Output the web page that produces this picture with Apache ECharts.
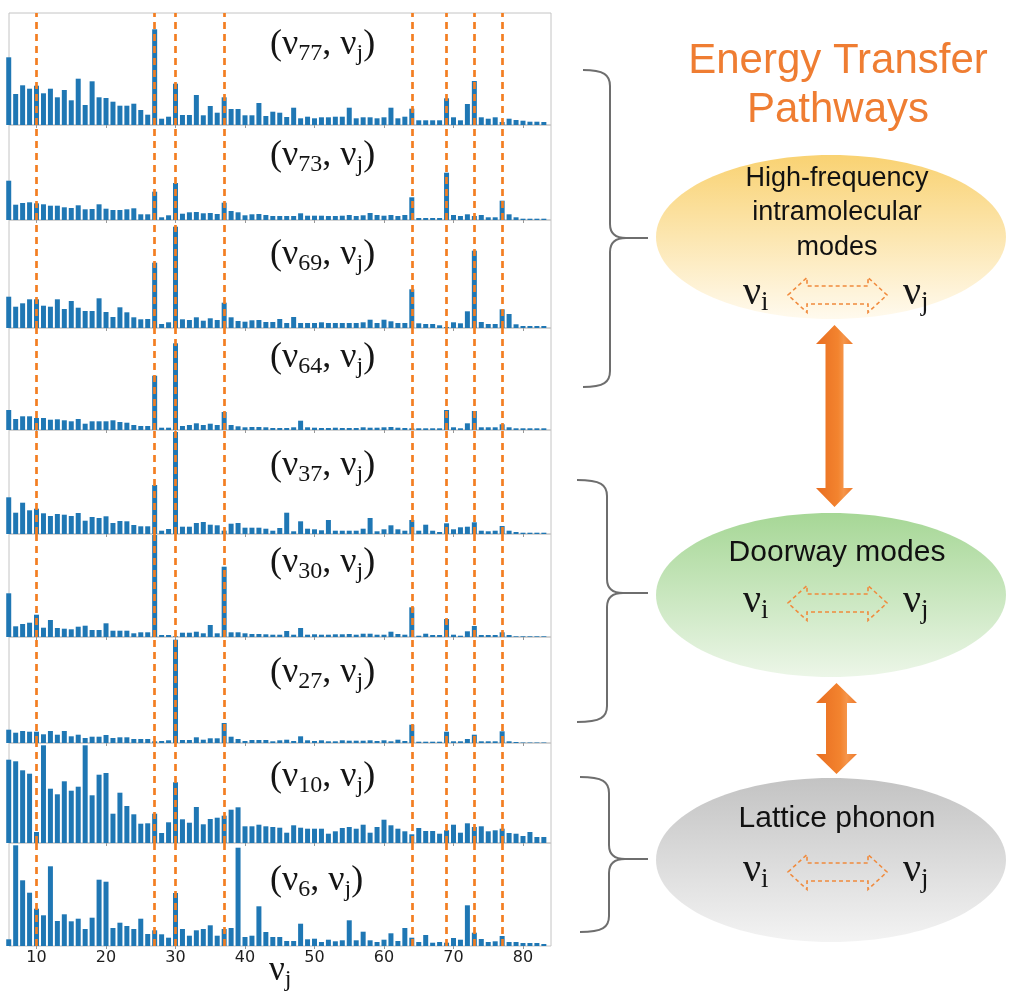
<!DOCTYPE html>
<html>
<head>
<meta charset="utf-8">
<title>Energy transfer pathways</title>
<script src="https://cdn.jsdelivr.net/npm/echarts@6.0.0/dist/echarts.min.js"></script>
<style>
  html, body { margin: 0; padding: 0; background: #fff; }
  #chart { width: 1009px; height: 992px; }
</style>
</head>
<body>
<div id="chart"></div>
<script>
  // x axis: mode index nu_j
  let modes = [6, 7, 8, 9, 10, 11, 12, 13, 14, 15, 16, 17, 18, 19, 20, 21, 22, 23, 24, 25,
    26, 27, 28, 29, 30, 31, 32, 33, 34, 35, 36, 37, 38, 39, 40, 41, 42, 43, 44, 45,
    46, 47, 48, 49, 50, 51, 52, 53, 54, 55, 56, 57, 58, 59, 60, 61, 62, 63, 64, 65,
    66, 67, 68, 69, 70, 71, 72, 73, 74, 75, 76, 77, 78, 79, 80, 81, 82, 83];
  let tickValues = [10, 20, 30, 40, 50, 60, 70, 80];
  let markedModes = [10, 27, 30, 37, 64, 69, 73, 77];
  let pairModes = ['77', '73', '69', '64', '37', '30', '27', '10', '6'];

  // coupling strength (nu_i, nu_j)
  let nu77 = [67.7, 31, 39.7, 36.3, 39.3, 31.7, 36.3, 27.7, 35, 24.7,
    46.3, 20, 43.7, 27.7, 27, 23.3, 19.3, 19.3, 21.3, 15,
    10.3, 95.7, 6.3, 8.3, 41.3, 10, 10, 30, 9.7, 19,
    12.3, 27.7, 16, 16, 9.7, 9.7, 22, 9, 13.3, 12.3,
    8, 17.3, 6.7, 8.3, 6.7, 7.7, 7.7, 8.3, 8.3, 17.3,
    6.7, 7.7, 7.7, 6.7, 7.7, 17.3, 6.7, 8.3, 16.3, 4.7,
    4.7, 4.7, 4.7, 26.7, 7.7, 4.7, 21, 44, 7.7, 6.3,
    7.7, 3, 6.3, 5, 4.3, 3.3, 3.3, 3];
  let nu73 = [39.3, 15.3, 17, 17.7, 16.7, 15.7, 14.3, 14.3, 12.7, 12,
    14.7, 10.7, 11, 15.7, 11.3, 10, 10, 10.7, 11.7, 5.7,
    5.7, 28.3, 2.7, 4.7, 37, 6.3, 7.7, 8, 6.7, 7,
    6, 17.3, 9, 7.7, 4.7, 5.7, 6, 5, 4, 4,
    4, 4, 6.7, 4.3, 4.3, 4.3, 4, 4, 4.3, 5,
    4, 4.7, 7, 5, 4.3, 5, 4, 5, 22.7, 2,
    2, 2, 2, 47.3, 5, 4, 5.7, 4, 5, 2.7,
    2.7, 19.3, 5.7, 2.7, 1.3, 1.3, 1.3, 1.3];
  let nu69 = [31.3, 21.3, 24.7, 28.7, 28.7, 22.3, 21.3, 28.7, 19, 27,
    20.3, 17, 17, 29.7, 16, 11, 20.7, 15.7, 10.7, 8.7,
    9, 65.3, 4, 5.7, 101.3, 8.7, 8, 10.7, 7.3, 9.7,
    8, 25.3, 10.7, 7, 6.3, 7.7, 8, 6, 6, 9,
    5, 11, 5, 5, 5, 5.7, 5, 5, 5, 5,
    5, 5.7, 8.3, 5, 8.3, 6.7, 5, 5, 38.7, 4.7,
    4, 4, 2.7, 1, 5.7, 4.7, 16.7, 77.3, 6, 4,
    4, 18.7, 14, 3.7, 2, 2, 2, 2];
  let nu64 = [20, 11, 13.7, 13.7, 12, 12, 10.3, 10.7, 9.7, 8.7,
    11, 6.3, 8.7, 8.7, 8.7, 9.7, 8, 7.3, 5, 4,
    4, 54.3, 2.3, 2.3, 86.7, 4, 5, 6.7, 5, 6.3,
    5, 18, 5, 3.7, 2.7, 3, 3, 2.7, 2, 2,
    2, 2.7, 9.3, 2.7, 2.3, 2, 2, 2.3, 2, 2,
    2, 2.7, 2.3, 2.3, 2.7, 3, 2.3, 2, 1.7, 1.7,
    1.7, 1.7, 1.7, 20, 2.7, 1.7, 6.7, 19, 2.7, 2.7,
    2.7, 5.7, 2.7, 1.7, 1.7, 1.7, 1.7, 1.7];
  let nu37 = [36.7, 21.3, 31.3, 23.7, 25.3, 20.7, 18, 20, 19.3, 18,
    21, 13.3, 17, 16, 17.7, 11, 13, 12.7, 9, 7.7,
    7.7, 49, 3.3, 5, 102, 7.3, 7.3, 11, 12, 9.3,
    8.7, 3.3, 10.3, 11, 6.3, 6.3, 6.3, 5.3, 3.3, 6,
    21.3, 2.7, 12.7, 5.3, 4.7, 3.7, 14, 3.3, 3.3, 3.3,
    3.3, 5.3, 16, 2.7, 4.7, 8.7, 4.7, 3.3, 14, 3.3,
    9.3, 3.3, 2, 10.7, 4.7, 6.7, 7.3, 11.7, 3.3, 2.7,
    3.3, 8, 3.3, 2, 1.3, 1.3, 1.3, 1.3];
  let nu30 = [43.7, 10.7, 13, 14.3, 22.3, 9.3, 17, 9, 8.3, 7.7,
    10.3, 11.3, 7, 7, 13.7, 6.3, 6.3, 6.3, 3.7, 4.7,
    4.7, 102, 2, 2, 0.7, 4.3, 4.3, 5.3, 3.7, 12,
    3.7, 70.3, 4.7, 4.7, 3.7, 3, 3, 2.7, 2.3, 2.3,
    6, 2.3, 9, 2.3, 2.7, 2.3, 2.3, 2.7, 2.7, 3,
    2.3, 3.3, 3.3, 2.3, 2.3, 5.3, 3, 2.3, 29.7, 1.3,
    3.3, 2, 2, 18, 2.3, 1.3, 5.7, 11, 2, 2,
    2, 4.7, 2, 0.7, 0.7, 0.7, 0.7, 0.7];
  let nu27 = [13.3, 10.3, 12, 11.3, 11.3, 8.7, 12, 8.3, 12, 6.7,
    8.3, 5, 6.3, 6.3, 8, 5, 5.7, 5.7, 4, 4,
    4, 1.7, 2, 2.7, 103.3, 3, 3, 5.7, 3.3, 4.7,
    4.7, 20, 6.3, 4, 2, 3, 3, 3, 1.7, 2.7,
    3.3, 2, 6.7, 2.7, 2, 2.7, 1.7, 1.7, 2.7, 2.3,
    2.3, 2.3, 2.7, 2, 2.7, 1.7, 3.3, 2, 18.3, 1.3,
    1.3, 1.3, 1.3, 11.3, 1.7, 1.7, 4, 8.3, 1.7, 1.7,
    1.7, 11.7, 1.7, 1, 0.5, 0.5, 0.5, 0.5];
  let nu10 = [83.3, 81.7, 72.7, 69.3, 11, 97.7, 54.3, 48.7, 61.7, 52.3,
    56.3, 97.7, 47.7, 68.3, 70, 29.3, 50.3, 37, 28.7, 19.3,
    19.7, 29.3, 10, 20.7, 60.7, 23.7, 20.3, 36, 18.7, 24,
    25.3, 27.3, 33.3, 35.7, 16.7, 16.7, 18.3, 16.7, 16, 15.3,
    10.3, 17.7, 15.3, 14.3, 14.3, 14.3, 9.3, 11.7, 15, 16,
    14.3, 18.3, 10.3, 16, 23.3, 17.7, 14.3, 11.7, 8.7, 15,
    12, 12, 9.3, 12.7, 18.3, 10.3, 19.7, 16, 16.7, 11.7,
    12.7, 14.3, 10, 9.3, 7, 11, 6, 6];
  let nu6 = [6.7, 100.7, 65.7, 53.3, 37.3, 30.7, 79.7, 25, 31.7, 24.7,
    27.3, 17, 28.3, 66.3, 64.3, 18, 23.3, 20, 17, 27.3,
    12, 15.7, 11.7, 8.3, 53, 17, 10.3, 15.7, 17, 20.7,
    10.3, 17, 18, 98.3, 9, 10.3, 39.7, 14, 9, 9,
    5, 5, 22.3, 6.7, 7.3, 4, 6.3, 4.7, 5.7, 25.7,
    5.7, 14.3, 5.7, 4, 6.3, 12.7, 5, 18, 8.3, 4,
    11, 3.3, 4, 3.3, 8, 6.3, 40.7, 13.3, 7, 4,
    4.7, 10, 4, 4, 3, 3, 3, 2];
  let panelValues = [nu77, nu73, nu69, nu64, nu37, nu30, nu27, nu10, nu6];

  // layout of the stacked panels
  let panelTop = [13, 125, 220, 328, 430, 534, 637, 743, 843];
  let panelHeight = [112, 95, 108, 102, 104, 103, 106, 100, 103];
  let labelY = [47, 158, 257, 360, 468, 565, 675, 779, 883];

  let serif = "'Liberation Serif', 'DejaVu Serif', serif";
  let sans = "'Liberation Sans', Arial, sans-serif";
  let orange = '#f37e22';

  let chart = echarts.init(document.getElementById('chart'));

  function nuRich(main, sub) {
    return {
      m: { fontFamily: serif, fontSize: main, lineHeight: main + 6, fill: '#151515' },
      s: { fontFamily: serif, fontSize: sub, lineHeight: sub, verticalAlign: 'bottom', fill: '#151515' }
    };
  }

  let grids = [], xAxes = [], yAxes = [], series = [], graphics = [];

  panelValues.forEach(function (vals, i) {
    let last = i === panelValues.length - 1;
    grids.push({
      left: 9, width: 542, top: panelTop[i], height: panelHeight[i],
      show: true, borderColor: '#c4c4c4', borderWidth: 1
    });
    xAxes.push({
      gridIndex: i, type: 'value', min: 6.04, max: 84.03,
      axisLine: { show: false },
      splitLine: { show: false },
      axisTick: { show: true, customValues: tickValues, length: 3, lineStyle: { color: '#999' } },
      axisLabel: {
        show: last, customValues: tickValues, margin: 4,
        fontFamily: "'DejaVu Sans', sans-serif", fontSize: 16, color: '#1e1e1e'
      }
    });
    yAxes.push({ gridIndex: i, type: 'value', min: 0, max: panelHeight[i], show: false });
    series.push({
      type: 'bar', xAxisIndex: i, yAxisIndex: i, silent: true,
      barWidth: 5,
      itemStyle: { color: '#1f77b4' },
      data: modes.map(function (m, k) { return [m, vals[k]]; }),
      markLine: {
        silent: true, symbol: ['none', 'none'], animation: false,
        label: { show: false },
        lineStyle: { color: orange, width: 2.7, type: [7, 5], opacity: 1 },
        data: markedModes.map(function (m) { return { xAxis: m }; })
      }
    });
    graphics.push({
      type: 'text', x: 270, y: labelY[i] - 2, z: 10,
      style: {
        text: '{m|(ν}{s|' + pairModes[i] + '}{m|, ν}{s|j}{m|)}',
        rich: nuRich(36, 24), verticalAlign: 'middle', align: 'left'
      }
    });
  });

  // axis name nu_j
  graphics.push({
    type: 'text', x: 269, y: 971, z: 10,
    style: { text: '{m|ν}{s|j}', rich: nuRich(35, 24), verticalAlign: 'middle', align: 'left' }
  });

  // title
  graphics.push(
    { type: 'text', x: 838, y: 61, style: { text: 'Energy Transfer', font: '42px ' + sans, fill: '#ef7d32', align: 'center', verticalAlign: 'middle' } },
    { type: 'text', x: 838, y: 110, style: { text: 'Pathways', font: '42px ' + sans, fill: '#ef7d32', align: 'center', verticalAlign: 'middle' } }
  );

  // curly brackets grouping the panels
  function brace(xL, xV, xT, top, mid, bot) {
    let st = { fill: 'none', stroke: '#6e6e6e', lineWidth: 2 };
    return [
      { type: 'bezierCurve', shape: { x1: xL, y1: top, cpx1: xV - 6, cpy1: top, cpx2: xV, cpy2: top + 5, x2: xV, y2: top + 16 }, style: st },
      { type: 'line', shape: { x1: xV, y1: top + 16, x2: xV, y2: mid - 14 }, style: st },
      { type: 'bezierCurve', shape: { x1: xV, y1: mid - 14, cpx1: xV, cpy1: mid - 4, cpx2: xV + 6, cpy2: mid, x2: xV + 16, y2: mid }, style: st },
      { type: 'line', shape: { x1: xV + 16, y1: mid, x2: xT, y2: mid }, style: st },
      { type: 'bezierCurve', shape: { x1: xV + 16, y1: mid, cpx1: xV + 6, cpy1: mid, cpx2: xV, cpy2: mid + 4, x2: xV, y2: mid + 14 }, style: st },
      { type: 'line', shape: { x1: xV, y1: mid + 14, x2: xV, y2: bot - 16 }, style: st },
      { type: 'bezierCurve', shape: { x1: xV, y1: bot - 16, cpx1: xV, cpy1: bot - 5, cpx2: xV - 6, cpy2: bot, x2: xL, y2: bot }, style: st }
    ];
  }
  graphics = graphics.concat(brace(583, 610, 648, 70, 238, 387));
  graphics = graphics.concat(brace(577, 607, 648, 480, 593, 722));
  graphics = graphics.concat(brace(580, 609, 648, 777, 859, 932));

  // mode groups
  function ellipse(cy, top, bottom) {
    return {
      type: 'ellipse', z: 1,
      shape: { cx: 831, cy: cy, rx: 175, ry: 82 },
      style: { fill: new echarts.graphic.LinearGradient(0, 0, 0, 1, [
        { offset: 0, color: top }, { offset: 1, color: bottom }]) }
    };
  }
  graphics.push(ellipse(237, '#f9d272', '#fffaee'));
  graphics.push(ellipse(595, '#a6d796', '#ecf6e8'));
  graphics.push(ellipse(860, '#c3c3c3', '#f3f3f3'));

  function label(text, y, size) {
    return { type: 'text', x: 837, y: y, z: 5, style: { text: text, font: size + 'px ' + sans, fill: '#111', align: 'center', verticalAlign: 'middle' } };
  }
  graphics.push(label('High-frequency', 179, 27), label('intramolecular', 213, 27), label('modes', 248, 27));
  graphics.push(label('Doorway modes', 553, 30));
  graphics.push(label('Lattice phonon', 819, 30));

  // nu_i <=> nu_j inside each group
  function exchange(cy) {
    let cx = 837.5;
    let pts = [[-49.5, 0], [-30.5, -17.5], [-30.5, -9], [30.5, -9], [30.5, -17.5], [49.5, 0],
      [30.5, 17.5], [30.5, 9], [-30.5, 9], [-30.5, 17.5]].map(function (p) { return [cx + p[0], cy + p[1]]; });
    return [
      { type: 'polygon', z: 5, shape: { points: pts }, style: { fill: 'none', stroke: '#f08a3c', lineWidth: 1.6, lineDash: [4, 3] } },
      { type: 'text', x: 743, y: cy - 2, z: 5, style: { text: '{m|ν}{s|i}', rich: nuRich(40, 27), verticalAlign: 'middle', align: 'left' } },
      { type: 'text', x: 903, y: cy - 2, z: 5, style: { text: '{m|ν}{s|j}', rich: nuRich(40, 27), verticalAlign: 'middle', align: 'left' } }
    ];
  }
  graphics = graphics.concat(exchange(295), exchange(603), exchange(872));

  // thick orange double arrows between groups
  function bigArrow(cx, yTop, yBot, hw, sw, hl) {
    return {
      type: 'polygon', z: 3,
      shape: { points: [[cx, yTop], [cx + hw, yTop + hl], [cx + sw, yTop + hl], [cx + sw, yBot - hl], [cx + hw, yBot - hl],
        [cx, yBot], [cx - hw, yBot - hl], [cx - sw, yBot - hl], [cx - sw, yTop + hl], [cx - hw, yTop + hl]] },
      style: { fill: new echarts.graphic.LinearGradient(0, 0, 1, 0, [
        { offset: 0, color: '#e86d20' }, { offset: 0.6, color: '#f3842f' },
        { offset: 0.75, color: '#f5954a' }, { offset: 1, color: '#ee7a2b' }]) }
    };
  }
  graphics.push(bigArrow(834.5, 325, 507, 18.5, 9, 19));
  graphics.push(bigArrow(836.5, 683, 774, 20.5, 10.5, 20));

  chart.setOption({
    animation: false,
    backgroundColor: '#fff',
    grid: grids,
    xAxis: xAxes,
    yAxis: yAxes,
    series: series,
    graphic: { elements: graphics }
  });
</script>
</body>
</html>
